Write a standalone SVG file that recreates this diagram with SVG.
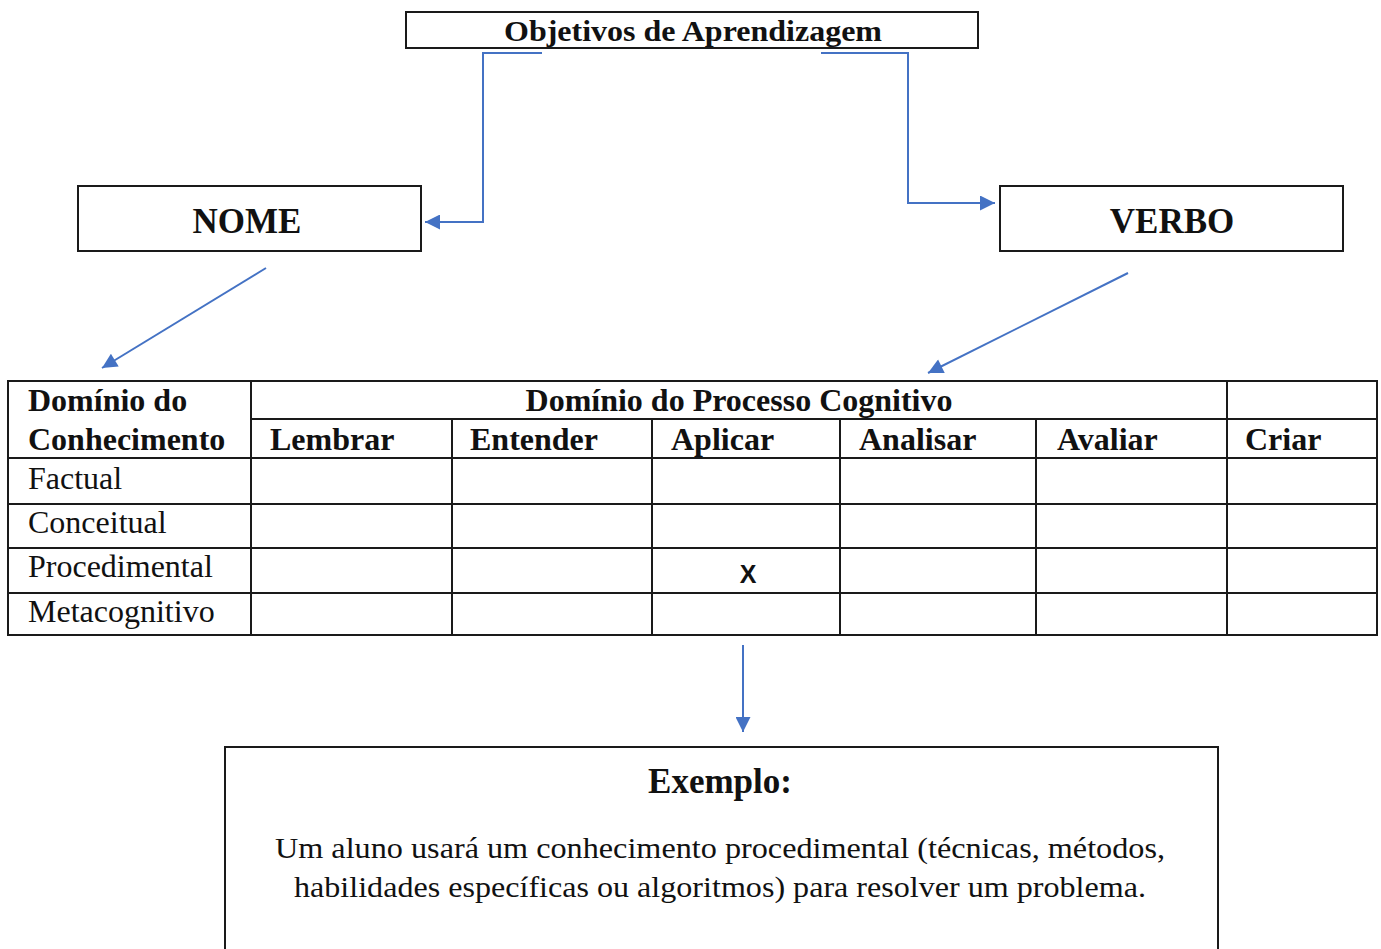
<svg xmlns="http://www.w3.org/2000/svg" width="1381" height="949" viewBox="0 0 1381 949">
<style>
.box{fill:#fff;stroke:#1a1a1a;stroke-width:2}
.t{font-family:"Liberation Serif","Times New Roman",serif;fill:#111}
.b{font-weight:bold}
.grid{stroke:#1a1a1a;stroke-width:2;fill:none}
.con{stroke:#4472C4;stroke-width:2;fill:none;marker-end:url(#ah)}
</style>
<defs>
<marker id="ah" viewBox="0 0 10 10" refX="10" refY="5" markerWidth="17" markerHeight="15" markerUnits="userSpaceOnUse" orient="auto">
<path d="M0,0 L10,5 L0,10 z" fill="#4472C4"/>
</marker>
</defs>
<rect width="1381" height="949" fill="#fff"/>
<g id="objetivos">
<rect class="box" x="406" y="12" width="572" height="36"/>
<text class="t b" x="693" y="41" font-size="30" text-anchor="middle" textLength="378" lengthAdjust="spacingAndGlyphs">Objetivos de Aprendizagem</text>
</g>
<g id="nome">
<rect class="box" x="78" y="186" width="343" height="65"/>
<text class="t b" x="247" y="233" font-size="35" text-anchor="middle">NOME</text>
</g>
<g id="verbo">
<rect class="box" x="1000" y="186" width="343" height="65"/>
<text class="t b" x="1172" y="233" font-size="35" text-anchor="middle">VERBO</text>
</g>
<g id="tabela">
<rect class="grid" x="8" y="381" width="1369" height="254"/>
<path class="grid" d="M251,419 H1377 M8,458 H1377 M8,504 H1377 M8,548 H1377 M8,593 H1377 M251,381 V635 M1227,381 V635 M452,419 V635 M652,419 V635 M840,419 V635 M1036,419 V635"/>
<g class="t b" font-size="32">
<text x="28" y="411">Domínio do</text>
<text x="28" y="450">Conhecimento</text>
<text x="739" y="411" text-anchor="middle">Domínio do Processo Cognitivo</text>
<text x="270" y="450">Lembrar</text>
<text x="470" y="450">Entender</text>
<text x="671" y="450">Aplicar</text>
<text x="859" y="450">Analisar</text>
<text x="1057" y="450">Avaliar</text>
<text x="1245" y="450">Criar</text>
</g>
<g class="t" font-size="32">
<text x="28" y="489">Factual</text>
<text x="28" y="533">Conceitual</text>
<text x="28" y="577">Procedimental</text>
<text x="28" y="622">Metacognitivo</text>
</g>
<text x="748" y="583" font-family="Liberation Sans, Arial, sans-serif" font-weight="bold" font-size="25" text-anchor="middle" fill="#111">X</text>
</g>
<g id="exemplo">
<rect class="box" x="225" y="747" width="993" height="215"/>
<text class="t b" x="720" y="793" font-size="35" text-anchor="middle">Exemplo:</text>
<text class="t" x="720" y="858" font-size="30" text-anchor="middle" textLength="890" lengthAdjust="spacingAndGlyphs">Um aluno usará um conhecimento procedimental (técnicas, métodos,</text>
<text class="t" x="720" y="897" font-size="30" text-anchor="middle" textLength="852" lengthAdjust="spacingAndGlyphs">habilidades específicas ou algoritmos) para resolver um problema.</text>
</g>
<g id="connectors">
<path class="con" d="M542,53 H483 V222 H425"/>
<path class="con" d="M821,53 H908 V203 H995"/>
<path class="con" d="M266,268 L102,368"/>
<path class="con" d="M1128,273 L928,373"/>
<path class="con" d="M743,645 V732"/>
</g>
</svg>
